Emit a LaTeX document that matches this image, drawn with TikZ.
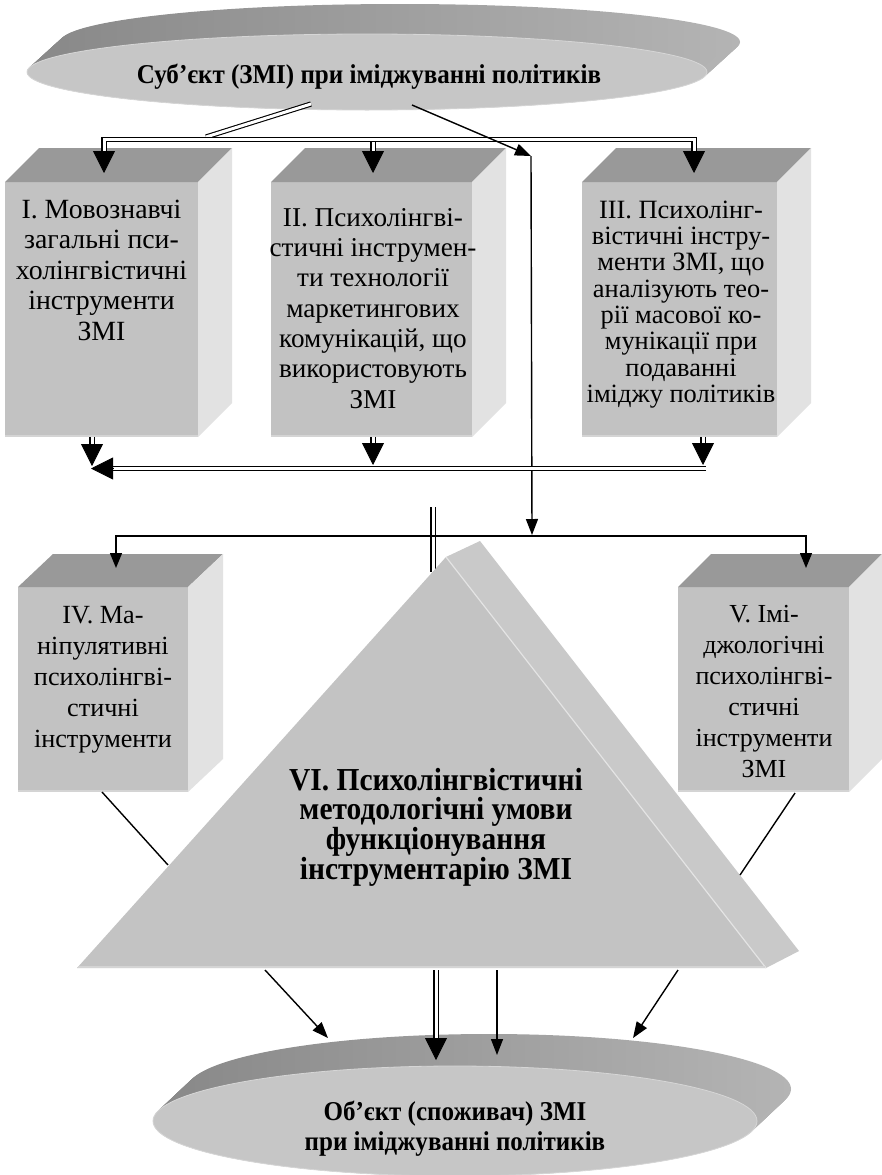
\documentclass[tikz,border=0pt]{standalone}
\usepackage{fontspec}
\setmainfont{Liberation Serif}
\newfontfamily\bnarrow{Liberation Serif Bold}[FakeStretch=0.92]
\usetikzlibrary{arrows.meta,calc}
\definecolor{topface}{HTML}{999999}
\definecolor{frontface}{HTML}{C2C2C2}
\definecolor{sideface}{HTML}{E2E2E2}
\definecolor{bevelc}{HTML}{D4D4D4}
\definecolor{discface}{HTML}{C6C6C6}
\definecolor{discedge}{HTML}{D6D6D6}
\definecolor{bandL}{HTML}{8A8A8A}
\definecolor{bandR}{HTML}{B4B4B4}
\definecolor{trifront}{HTML}{C3C3C3}
\definecolor{triside}{HTML}{C9C9C9}
\definecolor{triedge}{HTML}{E4E4E4}
\newcommand{\cuboidfaces}[3]{%
  \fill[topface] (#1.north west) -- ++(#2,-#3) -- ($(#1.north east)+(#2,-#3)$) -- (#1.north east) -- cycle;
  \fill[sideface] (#1.north east) -- ++(#2,-#3) -- ($(#1.south east)+(#2,-#3)$) -- (#1.south east) -- cycle;
  \draw[bevelc, line width=2pt] ($(#1.south west)+(0,-1)$) -- ($(#1.south east)+(0,-1)$);
}
\newcommand{\ts}{\rule{0pt}{26pt}}
\newcommand{\tsb}{\rule{0pt}{30pt}}
\begin{document}
\begin{tikzpicture}[x=1pt,y=-1pt,
  frontbox/.style={anchor=north west, fill=frontface, draw=none, inner sep=0pt, outer sep=0pt},
  boxtext/.style={anchor=north, align=center, inner sep=0pt},
  disctext/.style={align=center, inner sep=0pt, font=\bnarrow\fontsize{27.2}{30}\selectfont},
  tritext/.style={anchor=north, align=center, inner sep=0pt, font=\bnarrow\fontsize{32}{29}\selectfont},
  conn/.style={line width=1.4pt},
  dbl/.style={double, double distance=3pt, line width=1.1pt},
  bigtip/.style={line width=0.8pt, -{Triangle[length=22pt,width=22pt]}},
  smalltip/.style={-{Triangle[length=16pt,width=12pt]}},
  dtip/.style={{Triangle[length=15pt,width=12pt]}-{Triangle[length=15pt,width=12pt]}}
]
\useasboundingbox (0,0) rectangle (881,1175);
\fill[white] (0,0) rectangle (881,1175);

% ---- top disc (subject)
\coordinate (S) at (367,72);
\foreach \i in {0,...,40}{
  \shade[left color=bandL,right color=bandR] ($(S)+(\i*33/40,-\i*30/40)$) ellipse [x radius=340pt, y radius=38pt];
}
\filldraw[fill=discface, draw=discedge, line width=0.8pt] (S) ellipse [x radius=340pt, y radius=38pt];
\node[disctext, anchor=base] (subj) at (369,83) {Суб’єкт (ЗМІ) при іміджуванні політиків};

% ---- bottom disc (object)
\coordinate (O) at (455,1121);
\foreach \i in {0,...,40}{
  \shade[left color=bandL,right color=bandR] ($(O)+(\i*34/40,-\i*32/40)$) ellipse [x radius=302pt, y radius=55pt];
}
\filldraw[fill=discface, draw=discedge, line width=0.8pt] (O) ellipse [x radius=302pt, y radius=55pt];
\node[disctext, anchor=north] (obj) at (455,1094) {\ts Об’єкт (споживач) ЗМІ\\при іміджуванні політиків};

% ---- boxes
\node[frontbox, minimum width=193pt, minimum height=255pt] (b1) at (5,182) {};
\cuboidfaces{b1}{34}{34}
\node[frontbox, minimum width=201pt, minimum height=255pt] (b2) at (271,182) {};
\cuboidfaces{b2}{34}{34}
\node[frontbox, minimum width=195pt, minimum height=255pt] (b3) at (582,182) {};
\cuboidfaces{b3}{34}{34}
\node[frontbox, minimum width=170pt, minimum height=205pt] (b4) at (18,587) {};
\cuboidfaces{b4}{35}{33}
\node[frontbox, minimum width=171pt, minimum height=205pt] (b5) at (678,587) {};
\cuboidfaces{b5}{33}{33}

\node[boxtext, font=\fontsize{27.8}{30.5}\selectfont] (t1) at (101.5,192)
  {\ts I. Мовознавчі\\загальні пси-\\холінгвістичні\\інструменти\\ЗМІ};
\node[boxtext, font=\fontsize{27.2}{30.3}\selectfont] (t2) at (373,200)
  {\ts II. Психолінгві-\\стичні інструмен-\\ти технології\\маркетингових\\комунікацій, що\\використовують\\ЗМІ};
\node[boxtext, font=\fontsize{26.4}{26.3}\selectfont] (t3) at (681,192)
  {\ts III. Психолінг-\\вістичні інстру-\\менти ЗМІ, що\\аналізують тео-\\рії масової ко-\\мунікації при\\подаванні\\іміджу політиків};
\node[boxtext, font=\fontsize{26.2}{31}\selectfont] (t4) at (103,597)
  {\ts IV. Ма-\\ніпулятивні\\психолінгві-\\стичні\\інструменти};
\node[boxtext, font=\fontsize{26}{31}\selectfont] (t5) at (764,596)
  {\ts V. Імі-\\джологічні\\психолінгві-\\стичні\\інструменти\\ЗМІ};

% ---- double line to triangle apex (behind triangle)
\coordinate (v1) at (433,507);
\coordinate (v2) at (433,572);
\draw[dbl] (v1) -- (v2);

% ---- triangle (prism)
\coordinate (tA) at (446,557);
\coordinate (tL) at (77,968);
\coordinate (tR) at (766,968);
\coordinate (tA2) at (480,541);
\coordinate (tR2) at (799,951);
\fill[triside] (tA) -- (tA2) -- (tR2) -- (tR) -- cycle;
\fill[trifront] (tA) -- (tL) -- (tR) -- cycle;
\draw[triedge, line width=1.2pt] (tA) -- (tR);
\draw[bevelc, line width=1.5pt] ($(tL)+(1,-1)$) -- ($(tR)+(-1,-1)$);
\node[tritext] (t6) at (436,760) {\tsb VI. Психолінгвістичні\\методологічні умови\\функціонування\\інструментарію ЗМІ};

% ---- top connectors
\coordinate (s1) at (311,104);
\coordinate (s1b) at (206,137);
\draw[dbl] (s1) -- (s1b);
\coordinate (k1) at (104,139.5);
\coordinate (k3) at (694,139.5);
\coordinate (a1) at (104,151);
\coordinate (a3) at (694,151);
\coordinate (k2) at (373,142);
\coordinate (a2) at (373,151);
\draw[dbl] (a1) -- (k1) -- (k3) -- (a3);
\draw[dbl] (k2) -- (a2);
\coordinate (h1) at (104,173);
\coordinate (h2) at (373,173);
\coordinate (h3) at (694,173);
\draw[bigtip] (a1) -- (h1);
\draw[bigtip] (a2) -- (h2);
\draw[bigtip] (a3) -- (h3);

\coordinate (s2) at (412,105);
\coordinate (c1) at (531,156);
\coordinate (c2) at (532,535);
\draw[conn, smalltip] (s2) -- (c1);
\draw[conn, smalltip] (c1) -- (c2);

% ---- arrows below upper boxes
\coordinate (e1) at (92,437);  \coordinate (f1) at (92,444);  \coordinate (g1) at (92,466);
\coordinate (e2) at (373,437); \coordinate (f2) at (373,443); \coordinate (g2) at (373,465);
\coordinate (e3) at (703,437); \coordinate (f3) at (703,443); \coordinate (g3) at (703,465);
\draw[dbl] (e1) -- (f1); \draw[bigtip] (f1) -- (g1);
\draw[dbl] (e2) -- (f2); \draw[bigtip] (f2) -- (g2);
\draw[dbl] (e3) -- (f3); \draw[bigtip] (f3) -- (g3);
\coordinate (m3) at (706,468.5);
\coordinate (m1) at (113,468.5);
\coordinate (m0) at (91,468.5);
\draw[dbl] (m3) -- (m1);
\draw[bigtip] (m1) -- (m0);

% ---- distribution line to IV and V
\coordinate (p4) at (116,568);
\coordinate (pm) at (460,536);
\coordinate (p5) at (806,568);
\draw[conn, dtip] (p4) |- (pm) -| (p5);

% ---- IV, V to triangle
\coordinate (q4) at (102,792); \coordinate (r4) at (168,865);
\draw[conn] (q4) -- (r4);
\coordinate (q5) at (795,793); \coordinate (r5) at (740,875);
\draw[conn] (q5) -- (r5);

% ---- arrows to object
\coordinate (w1) at (265,970); \coordinate (w1e) at (328,1038);
\draw[conn, smalltip] (w1) -- (w1e);
\coordinate (w2) at (436,970); \coordinate (w2b) at (436,1038); \coordinate (w2e) at (436,1060);
\draw[dbl] (w2) -- (w2b);
\draw[bigtip] (w2b) -- (w2e);
\coordinate (w3) at (497,970); \coordinate (w3e) at (497,1055);
\draw[conn, smalltip] (w3) -- (w3e);
\coordinate (w4) at (678,970); \coordinate (w4e) at (633,1038);
\draw[conn, smalltip] (w4) -- (w4e);
\end{tikzpicture}
\end{document}
